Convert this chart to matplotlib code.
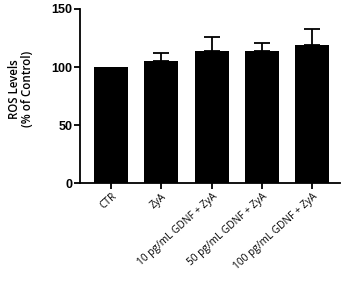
import matplotlib
matplotlib.use("Agg")
import matplotlib.pyplot as plt

groups = ["CTR", "ZyA", "10 pg/mL GDNF + ZyA", "50 pg/mL GDNF + ZyA", "100 pg/mL GDNF + ZyA"]
ros_mean = [100, 105.3, 113.6, 113.6, 119.2]
ros_err = [0, 7.0, 12.4, 6.9, 13.8]

fig = plt.figure(figsize=(3.49, 2.81), dpi=100)
ax = fig.add_axes([0.229, 0.348, 0.745, 0.62])

x = list(range(len(groups)))
ax.bar(x, ros_mean, width=0.68, color="black", zorder=2)
ax.errorbar(x[1:], ros_mean[1:], yerr=[[0] * (len(groups) - 1), ros_err[1:]], fmt="none",
            ecolor="black", elinewidth=1.3, capsize=6, capthick=1.3, zorder=1)

ax.set_ylim(0, 150)
ax.set_xlim(-0.62, 4.55)
ax.set_yticks([0, 50, 100, 150])
ax.set_yticklabels(["0", "50", "100", "150"], fontweight="bold", fontsize=9,
                   family="Liberation Sans")
ax.set_xticks(x)
ax.set_xticklabels(groups, rotation=42, ha="right", rotation_mode="anchor",
                   fontsize=7.3, family="Open Sans", fontweight="medium")
ax.set_ylabel("ROS Levels\n(% of Control)", fontsize=8.3, family="Open Sans",
              fontweight="semibold", linespacing=1.05)
ax.yaxis.set_label_coords(-0.175, 0.54)

for side in ["top", "right"]:
    ax.spines[side].set_visible(False)
for side in ["left", "bottom"]:
    ax.spines[side].set_linewidth(1.3)
ax.tick_params(width=1.3, length=4, pad=1.5)

fig.savefig("out.png", dpi=100)
